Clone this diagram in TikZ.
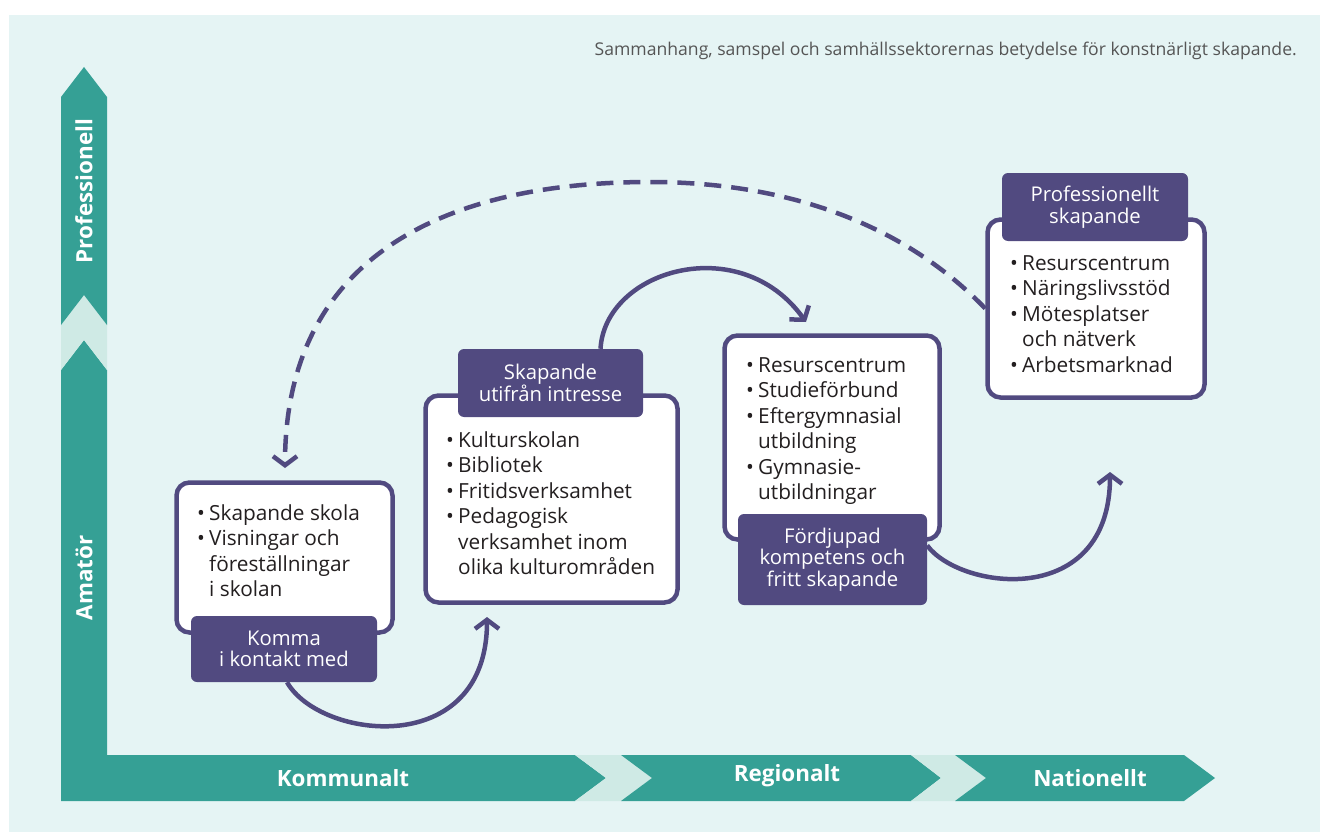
\documentclass[tikz,border=0pt]{standalone}
\usepackage{fontspec}
\setmainfont{Open Sans}
\usetikzlibrary{arrows.meta}
\definecolor{bgcol}{HTML}{E5F4F4}
\definecolor{axteal}{HTML}{35A095}
\definecolor{axlight}{HTML}{CFEAE5}
\definecolor{boxpurple}{HTML}{514A80}
\definecolor{textdark}{HTML}{231F20}
\definecolor{titlegray}{HTML}{555555}
\newcommand{\bul}{\makebox[12pt][l]{\textbullet}}
\newcommand{\ind}{\hspace*{12pt}}
\begin{document}
\begin{tikzpicture}[x=1pt,y=-1pt,
  box/.style={draw=boxpurple, line width=4.5pt, fill=white, rounded corners=13pt, inner sep=0pt},
  lab/.style={fill=boxpurple, rounded corners=6pt, text=white, align=center, inner sep=0pt, font=\fontsize{20.3}{21.5}\selectfont},
  items/.style={anchor=north west, align=left, inner sep=0pt, text=textdark, font=\fontsize{20.8}{25.5}\selectfont},
  conn/.style={draw=boxpurple, line width=4.5pt, -{Straight Barb[length=9pt,width=24pt]}},
  axislab/.style={text=white, font=\bfseries\fontsize{22.4}{24}\selectfont, inner sep=0pt},
]
\useasboundingbox (0,0) rectangle (1320,832);
\fill[white] (0,0) rectangle (1320,832);
\fill[bgcol] (9,15) rectangle (1320,832);

% axes
\fill[axteal] (61,801) -- (61,370) -- (84,340) -- (107,370) -- (107,755) -- (575,755) -- (606,778) -- (575,801) -- cycle;
\fill[axlight] (61,370) -- (84,340) -- (107,370) -- (107,325) -- (84,295) -- (61,325) -- cycle;
\fill[axteal] (61,325) -- (84,295) -- (107,325) -- (107,97) -- (84,67) -- (61,97) -- cycle;
\fill[axlight] (575,755) -- (606,778) -- (575,801) -- (621,801) -- (652,778) -- (621,755) -- cycle;
\fill[axteal] (621,755) -- (652,778) -- (621,801) -- (911,801) -- (941,778) -- (911,755) -- cycle;
\fill[axlight] (911,755) -- (941,778) -- (911,801) -- (955,801) -- (986,778) -- (955,755) -- cycle;
\fill[axteal] (955,755) -- (986,778) -- (955,801) -- (1184,801) -- (1215,778) -- (1184,755) -- cycle;

\node[axislab, rotate=90] (yprof) at (84,191) {Professionell};
\node[axislab, rotate=90] (yamat) at (84,578) {Amatör};
\node[axislab] (xkom) at (343,778) {Kommunalt};
\node[axislab] (xreg) at (787,776) {Regionalt};
\node[axislab] (xnat) at (1090,778) {Nationellt};

\node[anchor=base east, inner sep=0pt, text=titlegray, font=\fontsize{17.6}{19}\selectfont] (title) at (1297,56) {Sammanhang, samspel och samhällssektorernas betydelse för konstnärligt skapande.};

% boxes
\node[box, minimum width=216pt, minimum height=150pt] (b1) at (284.5,557.5) {};
\node[box, minimum width=252pt, minimum height=207pt] (b2) at (551.5,499) {};
\node[box, minimum width=215pt, minimum height=204pt] (b3) at (832,437.5) {};
\node[box, minimum width=217pt, minimum height=178pt] (b4) at (1096,308.5) {};

\node[items] (t1) at (197,504) {\bul Skapande skola\\\bul Visningar och\\\ind föreställningar\\\ind i skolan};
\node[items] (t2) at (446,431) {\bul Kulturskolan\\\bul Bibliotek\\\bul Fritidsverksamhet\\\bul Pedagogisk\\\ind verksamhet inom\\\ind olika kulturområden};
\node[items] (t3) at (746,357) {\bul Resurscentrum\\\bul Studieförbund\\\bul Eftergymnasial\\\ind utbildning\\\bul Gymnasie-\\\ind utbildningar};
\node[items] (t4) at (1010,255) {\bul Resurscentrum\\\bul Näringslivsstöd\\\bul Mötesplatser\\\ind och nätverk\\\bul Arbetsmarknad};

% labels
\node[lab, minimum width=186pt, minimum height=66pt] (l1) at (284,649) {Komma\\i kontakt med};
\node[lab, minimum width=185pt, minimum height=68pt] (l2) at (550.5,383) {Skapande\\utifrån intresse};
\node[lab, minimum width=189pt, minimum height=91pt] (l3) at (832.5,559.5) {Fördjupad\\kompetens och\\fritt skapande};
\node[lab, minimum width=186pt, minimum height=68pt] (l4) at (1095,207) {Professionellt\\skapande};

% connectors
\coordinate (a1) at (487,617);
\coordinate (a2) at (806,322);
\coordinate (a3) at (1110,472);
\coordinate (a4) at (285,468);
\draw[conn] ([xshift=3pt]l1.south) .. controls (320,740) and (487,760) .. (a1);
\draw[conn] ([xshift=50pt]l2.north) .. controls (605,270) and (740,230) .. (a2);
\draw[conn] ([yshift=14pt]l3.east) .. controls (960,590) and (1110,610) .. (a3);
\draw[conn, dash pattern=on 17pt off 10pt] (b4.west) .. controls (900,220) and (780,182) .. (650,182) .. controls (440,182) and (285,260) .. (a4);
\end{tikzpicture}
\end{document}
